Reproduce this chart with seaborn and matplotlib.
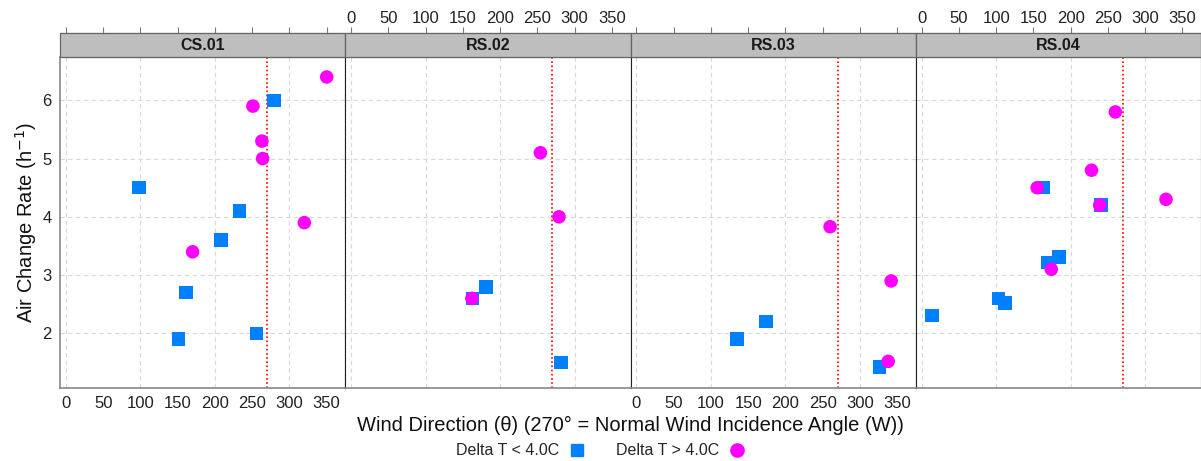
import matplotlib.pyplot as plt
import pandas as pd
import seaborn as sns
from matplotlib.patches import Rectangle

# Air change rate vs wind direction per site, split by indoor/outdoor delta T

sites = ["CS.01", "RS.02", "RS.03", "RS.04"]
low_label = "Delta T < 4.0C"
high_label = "Delta T > 4.0C"
normal_angle = 270

cs01_low_dir = [98, 208, 233, 161, 151, 256, 279]
cs01_low_ach = [4.5, 3.6, 4.1, 2.7, 1.9, 2.0, 6.0]
cs01_high_dir = [170, 251, 263, 264, 320, 350]
cs01_high_ach = [3.4, 5.9, 5.3, 5.0, 3.9, 6.4]

rs02_low_dir = [181, 163, 282]
rs02_low_ach = [2.8, 2.6, 1.5]
rs02_high_dir = [254, 279, 162]
rs02_high_ach = [5.1, 4.0, 2.6]

rs03_low_dir = [174, 135, 326]
rs03_low_ach = [2.2, 1.9, 1.42]
rs03_high_dir = [260, 342, 338]
rs03_high_ach = [3.83, 2.9, 1.52]

rs04_low_dir = [163, 241, 169, 184, 103, 112, 14]
rs04_low_ach = [4.5, 4.2, 3.22, 3.31, 2.6, 2.52, 2.31]
rs04_high_dir = [260, 228, 155, 239, 328, 174]
rs04_high_ach = [5.8, 4.8, 4.5, 4.2, 4.3, 3.1]

x_ticks = [0, 50, 100, 150, 200, 250, 300, 350]
x_grid = [0, 100, 200, 300]
y_ticks = [2, 3, 4, 5, 6]

series = {
    "CS.01": (cs01_low_dir, cs01_low_ach, cs01_high_dir, cs01_high_ach),
    "RS.02": (rs02_low_dir, rs02_low_ach, rs02_high_dir, rs02_high_ach),
    "RS.03": (rs03_low_dir, rs03_low_ach, rs03_high_dir, rs03_high_ach),
    "RS.04": (rs04_low_dir, rs04_low_ach, rs04_high_dir, rs04_high_ach),
}

rows = []
for site in sites:
    ld, la, hd, ha = series[site]
    rows += [(site, d, a, low_label) for d, a in zip(ld, la)]
    rows += [(site, d, a, high_label) for d, a in zip(hd, ha)]
df = pd.DataFrame(rows, columns=["site", "direction", "ach", "group"])

sns.set_style("white")
plt.rcParams["font.family"] = ["Liberation Sans", "DejaVu Sans"]

fig, axes = plt.subplots(1, 4, sharey=True, figsize=(12.01, 4.61), dpi=100)
fig.subplots_adjust(left=0.05, right=1.0, bottom=0.158, top=0.876, wspace=0)

palette = {low_label: "#0080FF", high_label: "#FF00FF"}
markers = {low_label: "s", high_label: "o"}
strip_h = 0.0725
tick_fs = 12

for i, (ax, site) in enumerate(zip(axes, sites)):
    sub = df[df["site"] == site]
    for x in x_grid:
        ax.axvline(x, color="#d9d9d9", ls=(0, (4, 3)), lw=0.8, zorder=0)
    for y in y_ticks:
        ax.axhline(y, color="#d9d9d9", ls=(0, (4, 3)), lw=0.8, zorder=0)
    ax.axvline(normal_angle, color="red", ls=(0, (1, 1.5)), lw=1.2, zorder=1)
    sns.scatterplot(data=sub, x="direction", y="ach", hue="group", style="group",
                    hue_order=[low_label, high_label], palette=palette,
                    markers=markers, s=95, linewidth=0, ax=ax, legend=False,
                    zorder=3)
    ax.set_xlim(-8, 375)
    ax.set_ylim(1.06, 6.74)
    ax.set_xlabel("")
    ax.set_ylabel("")
    ax.set_xticks(x_ticks)
    ax.set_yticks(y_ticks)
    ax.tick_params(axis="x", length=4, color="#777", labelsize=tick_fs,
                   labelcolor="#222", pad=2, labelbottom=(i % 2 == 0))
    ax.tick_params(axis="y", length=4 if i == 0 else 0, color="#777",
                   labelsize=tick_fs, labelcolor="#222", pad=2)

    for side in ["left", "right", "top", "bottom"]:
        ax.spines[side].set_visible(True)
    ax.spines["bottom"].set_color("#888")
    ax.spines["bottom"].set_linewidth(1.2)
    ax.spines["left"].set_color("#888" if i == 0 else "#222")
    ax.spines["left"].set_linewidth(1.2 if i == 0 else 0.8)
    ax.spines["right"].set_color("#222")
    ax.spines["right"].set_linewidth(0.8)
    ax.spines["top"].set_color("#666")

    ax.add_patch(Rectangle((0, 1), 1, strip_h, transform=ax.transAxes,
                           clip_on=False, facecolor="#BEBEBE",
                           edgecolor="#666", lw=0.9, zorder=5))
    ax.text(0.5, 1 + strip_h / 2, site, transform=ax.transAxes, ha="center",
            va="center", fontsize=11.5, fontweight="bold", color="#1a1a1a",
            zorder=7)

    sec = ax.secondary_xaxis(1 + strip_h)
    sec.set_xticks(x_ticks)
    sec.spines["top"].set_color("#888")
    sec.tick_params(axis="x", length=4, color="#777", labelsize=tick_fs,
                    labelcolor="#222", pad=1, labeltop=(i % 2 == 1))
    if i % 2 == 0:
        sec.set_xticklabels([])

fig.text(0.525, 0.078, "Wind Direction (\u03b8) (270\u00b0 = Normal Wind Incidence Angle (W))",
         ha="center", va="center", fontsize=14.5, color="#111")
fig.text(0.022, 0.517, "Air Change Rate (h$^{-1}$)", rotation=90,
         ha="center", va="center", fontsize=14.5, color="#111")

handles = [
    plt.Line2D([], [], marker="s", ls="", color=palette[low_label], markersize=9),
    plt.Line2D([], [], marker="o", ls="", color=palette[high_label], markersize=9.5),
]
fig.legend(handles, [low_label, high_label], loc="center", ncol=2,
           bbox_to_anchor=(0.5, 0.022), frameon=False, markerfirst=False,
           fontsize=11.5, handletextpad=0.6, columnspacing=2.0, handlelength=1)

fig.savefig("out.png", dpi=100)
